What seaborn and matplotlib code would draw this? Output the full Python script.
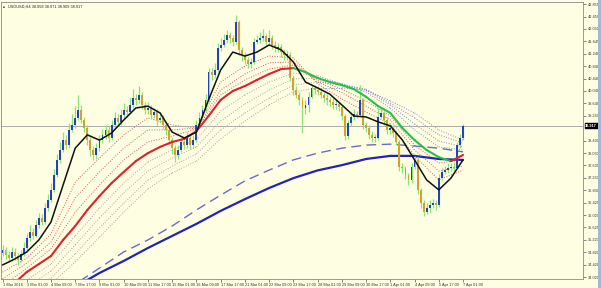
import numpy as np
import pandas as pd
import matplotlib
matplotlib.use("Agg")
import matplotlib.pyplot as plt
import seaborn as sns
from matplotlib.patches import Rectangle
from matplotlib.transforms import blended_transform_factory

title = "USOUSD,H4 38.958 38.971 38.909 38.917"
last_price = 38.917
first_open = 34.80

closes = [
    34.89, 34.73, 34.64, 34.83, 34.70, 34.57, 34.77, 34.96,
    35.28, 35.48, 35.35, 35.70, 35.93, 35.80, 36.25, 36.51,
    36.84, 37.32, 37.81, 38.13, 38.45, 38.29, 38.78, 38.94,
    39.17, 39.42, 39.10, 38.84, 38.45, 38.13, 37.97, 38.19,
    38.45, 38.62, 38.78, 38.52, 38.94, 39.17, 39.04, 39.26,
    39.42, 39.36, 39.59, 39.81, 39.75, 39.91, 39.59, 39.42,
    39.49, 39.26, 39.36, 39.10, 39.17, 38.94, 38.78, 38.45,
    38.19, 37.97, 38.13, 38.39, 38.29, 38.52, 38.29, 38.45,
    38.94, 39.17, 39.42, 39.75, 40.65, 40.56, 40.72, 41.43,
    41.53, 41.69, 41.85, 41.75, 41.63, 42.27, 41.37, 41.20,
    41.04, 40.91, 40.98, 41.63, 41.69, 41.75, 41.82, 41.63,
    41.75, 41.53, 41.43, 41.46, 41.30, 41.20, 41.20, 40.46,
    40.07, 39.91, 39.75, 39.49, 39.59, 39.85, 40.14, 40.07,
    40.01, 39.91, 39.81, 39.75, 39.68, 39.59, 39.62, 39.52,
    39.23, 38.58, 39.00, 39.20, 39.29, 39.26, 39.75, 38.94,
    38.84, 38.62, 38.52, 38.52, 39.20, 39.33, 39.10, 38.78,
    38.84, 38.68, 38.39, 37.58, 37.55, 37.32, 37.16, 37.58,
    37.81, 36.84, 36.41, 36.12, 36.25, 36.35, 36.41, 36.35,
    37.22, 37.42, 37.48, 37.55, 37.58, 37.55, 38.29, 38.52,
    38.91]

highs = [
    35.05, 35.00, 34.85, 35.00, 34.95, 34.80, 34.90, 35.15,
    35.45, 35.70, 35.60, 35.85, 36.10, 36.05, 36.40, 36.70,
    37.05, 37.50, 38.00, 38.40, 38.70, 38.60, 39.00, 39.30,
    39.55, 39.90, 39.60, 39.20, 38.95, 38.55, 38.25, 38.35,
    38.60, 38.80, 38.95, 38.90, 39.10, 39.35, 39.30, 39.45,
    39.65, 39.55, 39.80, 40.10, 39.95, 40.20, 40.00, 39.70,
    39.70, 39.60, 39.50, 39.45, 39.35, 39.25, 39.05, 38.90,
    38.55, 38.30, 38.30, 38.55, 38.50, 38.70, 38.60, 38.60,
    39.10, 39.35, 39.60, 39.95, 40.80, 40.80, 40.95, 41.60,
    41.75, 41.90, 42.00, 41.95, 41.85, 42.50, 42.35, 41.45,
    41.30, 41.15, 41.10, 41.75, 41.85, 41.95, 42.05, 41.90,
    42.00, 41.85, 41.65, 41.60, 41.55, 41.40, 41.35, 41.30,
    40.55, 40.20, 40.00, 39.85, 39.75, 40.00, 40.25, 40.25,
    40.20, 40.10, 40.00, 39.95, 39.85, 39.80, 39.75, 39.70,
    39.60, 39.30, 39.10, 39.35, 39.45, 39.40, 40.25, 39.80,
    39.05, 38.95, 38.75, 38.65, 39.50, 39.50, 39.40, 39.20,
    39.00, 38.95, 38.75, 38.45, 37.70, 37.60, 37.40, 37.70,
    37.95, 37.90, 36.90, 36.50, 36.40, 36.50, 36.55, 36.50,
    37.35, 37.55, 37.60, 37.70, 37.70, 37.75, 38.40, 38.65,
    38.98]

lows = [
    34.70, 34.60, 34.50, 34.55, 34.58, 34.42, 34.50, 34.70,
    34.90, 35.20, 35.25, 35.30, 35.62, 35.70, 35.75, 36.15,
    36.45, 36.78, 37.25, 37.70, 38.05, 38.15, 38.20, 38.70,
    38.85, 39.10, 39.00, 38.70, 38.30, 37.95, 37.80, 37.85,
    38.10, 38.35, 38.50, 38.40, 38.45, 38.85, 38.90, 38.95,
    39.15, 39.20, 39.30, 39.50, 39.60, 39.65, 39.45, 39.30,
    39.30, 39.15, 39.15, 38.95, 39.00, 38.80, 38.60, 38.30,
    38.00, 37.75, 37.85, 38.05, 38.15, 38.20, 38.15, 38.20,
    38.40, 38.85, 39.10, 39.35, 39.70, 40.40, 40.45, 40.65,
    41.35, 41.45, 41.60, 41.60, 41.50, 41.55, 41.20, 41.00,
    40.90, 40.80, 40.80, 40.90, 41.55, 41.60, 41.65, 41.50,
    41.55, 41.40, 41.30, 41.30, 41.15, 41.05, 41.05, 40.35,
    39.90, 39.80, 39.60, 38.68, 39.30, 39.35, 39.80, 39.95,
    39.90, 39.80, 39.70, 39.60, 39.55, 39.45, 39.45, 39.40,
    39.10, 38.45, 38.50, 38.90, 39.10, 39.15, 39.20, 38.80,
    38.70, 38.50, 38.40, 38.40, 38.45, 39.15, 38.95, 38.65,
    38.65, 38.55, 38.30, 37.45, 37.40, 37.20, 37.00, 37.05,
    37.50, 36.70, 36.25, 36.00, 36.05, 36.10, 36.25, 36.20,
    36.30, 37.15, 37.35, 37.40, 37.45, 37.45, 37.50, 38.20,
    38.45]

# moving averages sampled every 4 bars
black_ma = [34.41, 34.60, 34.83, 35.22, 35.80, 37.00, 38.19, 38.62, 38.45, 38.68,
            39.10, 39.49, 39.55, 39.33, 38.71, 38.52, 38.71, 39.75, 40.72, 41.30,
            41.17, 41.30, 41.53, 41.37, 40.98, 40.33, 40.14, 39.94, 39.59, 39.23,
            39.20, 39.04, 38.91, 38.45, 37.81, 37.16, 36.84, 37.22, 37.81]
trend_ma = [33.54, 33.83, 34.18, 34.44, 34.70, 35.22, 35.67, 36.19, 36.64, 37.06,
            37.42, 37.77, 38.03, 38.23, 38.39, 38.49, 38.74, 39.23, 39.75, 40.04,
            40.20, 40.40, 40.59, 40.75, 40.78, 40.65, 40.46, 40.33, 40.23, 40.10,
            39.85, 39.55, 39.33, 38.84, 38.45, 38.13, 37.90, 37.77, 37.97]

# ribbons sampled every 8 bars
fast1 = [34.18, 34.63, 35.41, 37.09, 37.87, 38.62, 39.17, 38.94, 38.84, 40.33,
         40.85, 41.17, 41.11, 40.27, 39.78, 39.36, 38.97, 37.94, 37.16, 37.48]
fast2 = [33.96, 34.47, 35.15, 36.58, 37.42, 38.19, 38.78, 38.78, 38.84, 40.07,
         40.59, 40.95, 40.98, 40.33, 39.99, 39.55, 39.10, 38.13, 37.45, 37.61]
fast3 = [33.73, 34.31, 34.93, 36.12, 37.00, 37.81, 38.39, 38.58, 38.81, 39.91,
         40.40, 40.75, 40.88, 40.40, 40.10, 39.72, 39.23, 38.29, 37.71, 37.81]
slow1 = [33.28, 33.92, 34.44, 35.35, 36.25, 37.06, 37.74, 38.13, 38.45, 39.39,
         39.91, 40.33, 40.62, 40.53, 40.27, 40.01, 39.49, 38.78, 38.23, 38.13]
slow2 = [33.08, 33.70, 34.21, 35.06, 35.93, 36.74, 37.45, 37.87, 38.23, 39.07,
         39.62, 40.07, 40.43, 40.46, 40.27, 40.07, 39.59, 38.97, 38.42, 38.23]
slow3 = [32.89, 33.47, 33.99, 34.77, 35.61, 36.41, 37.16, 37.61, 38.00, 38.78,
         39.33, 39.81, 40.23, 40.33, 40.23, 40.10, 39.65, 39.17, 38.62, 38.36]
slow4 = [32.69, 33.28, 33.79, 34.51, 35.31, 36.12, 36.87, 37.39, 37.77, 38.49,
         39.07, 39.59, 40.01, 40.14, 40.14, 40.07, 39.72, 39.33, 38.78, 38.45]
blue_ma = [32.30, 32.79, 33.28, 33.70, 34.15, 34.54, 34.96, 35.35, 35.74, 36.16,
           36.54, 36.90, 37.22, 37.47, 37.64, 37.84, 37.94, 37.94, 37.84, 37.81]
blue_dash = [32.56, 32.96, 33.34, 33.79, 34.31, 34.83, 35.22, 35.67, 36.19, 36.67,
             37.13, 37.48, 37.81, 38.03, 38.19, 38.29, 38.32, 38.26, 38.19, 38.07]

x_labels = ["1 Mar 2016", "3 Mar 01:00", "4 Mar 09:00", "7 Mar 17:00", "9 Mar 01:00",
            "10 Mar 09:00", "11 Mar 17:00", "15 Mar 01:00", "16 Mar 09:00", "17 Mar 17:00",
            "21 Mar 01:00", "22 Mar 09:00", "23 Mar 17:00", "28 Mar 01:00", "29 Mar 09:00",
            "30 Mar 17:00", "1 Apr 01:00", "4 Apr 09:00", "5 Apr 17:00", "7 Apr 01:00"]
y_ticks = [42.855, 42.450, 42.050, 41.645, 41.240, 40.840, 40.440, 40.040, 39.640,
           39.240, 38.430, 38.030, 37.630, 37.230, 36.830, 36.425, 36.020, 35.625,
           35.220, 34.820, 34.420, 34.020]

sns.set_theme(style="white")
plt.rcParams['font.family'] = ['Liberation Sans', 'DejaVu Sans']

FS = 2.8
BG = "#FEFEE2"
fig = plt.figure(figsize=(6.01, 2.88), dpi=100)
fig.patch.set_facecolor(BG)
ax = fig.add_axes([1 / 601, 9 / 288, 582 / 601, 277 / 288])
ax.set_facecolor(BG)

n = len(closes)
bars = np.arange(n)
opens = [first_open] + closes[:-1]
df = pd.DataFrame({"bar": bars, "open": opens, "high": highs, "low": lows, "close": closes})
df["high"] = df[["high", "open", "close"]].max(axis=1)
df["low"] = df[["low", "open", "close"]].min(axis=1)
df["up"] = df["close"] >= df["open"]
df["bottom"] = df[["open", "close"]].min(axis=1)
df["height"] = (df["close"] - df["open"]).abs().clip(lower=0.025)

b4 = np.arange(0, n, 4)
b8 = np.arange(0, n, 8)
dot = (0, (1, 1.6))

def seg_plot(xs, ys, colors, **kw):
    for k in range(len(xs) - 1):
        sns.lineplot(x=[xs[k], xs[k + 1]], y=[ys[k], ys[k + 1]], color=colors[k], ax=ax,
                     legend=False, **kw)

# slow ribbon
slow_col = ["#B8A0A0" if b < 104 else "#8E86D8" for b in b8[:-1]]
for s in (slow4, slow3, slow2, slow1):
    seg_plot(b8, s, slow_col, lw=0.7, linestyle=dot)
# fast ribbon
for f in (fast3, fast2, fast1):
    sns.lineplot(x=b8, y=f, color="#E05A5A", lw=0.7, linestyle=dot, ax=ax, legend=False)

sns.lineplot(x=b8, y=blue_dash, color="#6A6AC8", lw=1.0, linestyle=(0, (7, 4)), ax=ax,
             legend=False)
sns.lineplot(x=b8, y=blue_ma, color="#2424B4", lw=1.6, ax=ax, legend=False)

# candles
ax.vlines(df["bar"], df["low"], df["high"], color="#8EE27A", lw=0.9, zorder=3)
ax.bar(df["bar"], df["height"], bottom=df["bottom"], width=0.62,
       color=np.where(df["up"], "#2441C0", "#CFA232"), edgecolor="none", zorder=4)

# trend MA colored by direction
tcol = ["#E0202E" if trend_ma[k + 1] >= trend_ma[k] else "#22C24A" for k in range(len(b4) - 1)]
seg_plot(b4, trend_ma, tcol, lw=1.5, zorder=5)
sns.lineplot(x=b4, y=black_ma, color="#111111", lw=1.1, ax=ax, legend=False, zorder=6)

ax.axhline(last_price, color="#ABABAB", lw=0.7, zorder=2)

ax.set_xlim(-0.5, 191.6)
ax.set_ylim(33.956, 42.920)

ax.yaxis.tick_right()
ax.set_yticks(y_ticks)
ax.set_yticklabels([f"{v:.3f}" for v in y_ticks], fontsize=FS, color="#333333")
ax.set_xticks(b8)
ax.set_xticklabels(x_labels, fontsize=FS, color="#333333", ha="left")
ax.tick_params(axis="y", which="both", length=2, width=0.5, pad=1.2, colors="#555555",
               labelcolor="#333333", right=True, left=False)
ax.tick_params(axis="x", which="both", length=2, width=0.5, pad=1.2, colors="#555555",
               labelcolor="#333333", bottom=True)
ax.set_xlabel("")
ax.set_ylabel("")
for sp in ax.spines.values():
    sp.set_color("#8A8A8A")
    sp.set_linewidth(0.6)

tr = blended_transform_factory(ax.transAxes, ax.transData)
ax.text(1.004, last_price, f"{last_price:.3f}", transform=tr, fontsize=FS, color="white",
        va="center", ha="left", fontweight="bold",
        bbox=dict(boxstyle="square,pad=0.2", fc="black", ec="black"), zorder=10)

fig.text(3 / 601, 1 - 7 / 288, "\u25aa", fontsize=4, color="#222222", va="center")
fig.text(8 / 601, 1 - 7 / 288, title, fontsize=FS, color="#222222", va="center")
fig.add_artist(Rectangle((598 / 601, 0), 3 / 601, 1, transform=fig.transFigure,
                         facecolor="#A4B6D6", edgecolor="none"))

fig.savefig("out.png", dpi=100, facecolor=BG)
